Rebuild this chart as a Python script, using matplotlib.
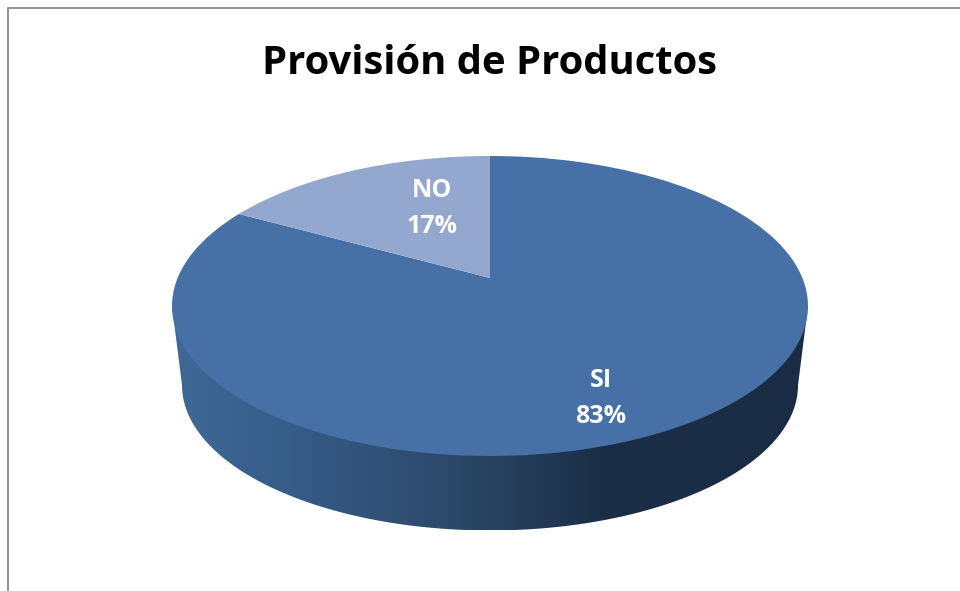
import numpy as np
import matplotlib
matplotlib.use("Agg")
import matplotlib.pyplot as plt
from matplotlib.colors import LinearSegmentedColormap
from matplotlib.patches import PathPatch
from matplotlib.path import Path
from matplotlib.transforms import Affine2D, Transform

plt.rcParams['font.family'] = ['Open Sans', 'DejaVu Sans']

title = "Provisión de Productos"
categories = ["SI", "NO"]
values = [83, 17]

slice_colors = ["#4670A6", "#94A7CE"]
wall_colors = [(0.0, "#3F6997"), (0.2, "#365B87"), (0.45, "#2C4868"), (0.68, "#1B2E46"), (1.0, "#1A2C43")]
frame_color = "#8A8A8A"

# camera used for the tilted disc: near edge is larger than far edge
tilt = 0.1867
half_w = 312.4
half_h = 144.8
cx = 490
top_y = 278
bottom_y = 358
bottom_scale = 0.9686


class DiscProjection(Transform):
    input_dims = 2
    output_dims = 2
    has_inverse = False

    def transform_non_affine(self, values):
        xy = np.asarray(values, dtype=float)
        w = 1 + tilt * xy[:, 1]
        return np.column_stack([half_w * xy[:, 0] / w, half_h * xy[:, 1] / w])


fig = plt.figure(figsize=(9.6, 5.91), dpi=100)
ax = fig.add_axes([0, 0, 1, 1])

top_disc = DiscProjection() + Affine2D().scale(1, -1).translate(cx, top_y)
bottom_disc = DiscProjection() + Affine2D().scale(bottom_scale, -bottom_scale).translate(cx, bottom_y)

wedges, _ = ax.pie(values, colors=slice_colors, startangle=90, counterclock=False,
                   wedgeprops={"linewidth": 0})
for w in wedges:
    w.set_transform(top_disc + ax.transData)
    w.set_zorder(3)

# side wall: chord across the top disc (hidden under it) down to the bottom rim
side = np.sqrt(1 - tilt ** 2)
t0 = np.arctan2(-tilt, -side) + 2 * np.pi
t1 = np.arctan2(-tilt, side) + 2 * np.pi
t = np.linspace(t0, t1, 300)
rim = np.column_stack([np.cos(t), np.sin(t)])
top_rim = top_disc.transform(rim)
wall_pts = np.vstack([top_rim[[0, -1]], bottom_disc.transform(rim)[::-1]])
wall = PathPatch(Path(np.vstack([wall_pts, wall_pts[:1]]), closed=True),
                 facecolor="none", edgecolor="none", transform=ax.transData)
ax.add_patch(wall)

wall_cmap = LinearSegmentedColormap.from_list("wall", wall_colors)
shade = ax.imshow(np.linspace(0, 1, 640)[None, :], cmap=wall_cmap, aspect="auto",
                  extent=(wall_pts[:, 0].min(), wall_pts[:, 0].max(), wall_pts[:, 1].max(), wall_pts[:, 1].min()),
                  zorder=2)
shade.set_clip_path(wall)

ax.set_aspect("auto")
ax.set_xlim(0, 960)
ax.set_ylim(591, 0)
ax.axis("off")

# chart frame, open at the right and bottom
ax.plot([8, 8, 960], [591, 8, 8], color=frame_color, lw=1.3, solid_joinstyle="miter", zorder=1, clip_on=False)

ax.text(489, 63, title, ha="center", va="center", fontsize=28.8, fontweight="bold", color="black", zorder=5)

label_pos = {"SI": (601, 398.5), "NO": (432, 208.5)}
for name, val in zip(categories, values):
    x, y = label_pos[name]
    ax.text(x, y, f"{name}\n{val}%", ha="center", va="center", color="white",
            fontsize=18, fontweight="bold", linespacing=1.6, zorder=5)

fig.savefig("out.png", dpi=100)
